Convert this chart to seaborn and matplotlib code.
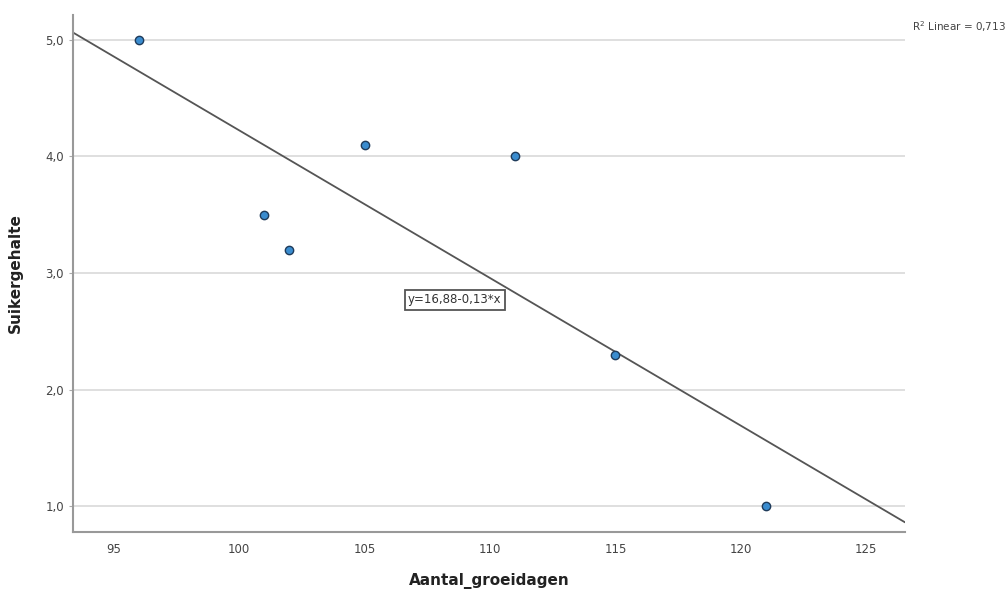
import numpy as np
import pandas as pd
import seaborn as sns
import matplotlib
matplotlib.use("Agg")
import matplotlib.pyplot as plt
from matplotlib.ticker import FuncFormatter

groeidagen = [96, 101, 102, 105, 111, 115, 121]
suiker = [5.0, 3.5, 3.2, 4.1, 4.0, 2.3, 1.0]
x_ticks = [95, 100, 105, 110, 115, 120, 125]
y_ticks = [1.0, 2.0, 3.0, 4.0, 5.0]

df = pd.DataFrame({"Aantal_groeidagen": groeidagen, "Suikergehalte": suiker})

sns.set_theme(style="white")
plt.rcParams['font.family'] = ['DejaVu Sans']

fig = plt.figure(figsize=(10.07, 5.91), dpi=100)
ax = fig.add_axes([0.0725, 0.0998, 0.8262, 0.8748])
xlim = (93.38, 126.54)
ax.set_xlim(*xlim)
ax.set_ylim(0.78, 5.21)

for yt in y_ticks:
    ax.axhline(yt, color="#d9d9d9", lw=1.2, zorder=0)

slope, intercept = np.polyfit(groeidagen, suiker, 1)
r = np.corrcoef(groeidagen, suiker)[0, 1]
xs = np.array(xlim)
ax.plot(xs, intercept + slope * xs, color="#555555", lw=1.3, zorder=2)

sns.scatterplot(data=df, x="Aantal_groeidagen", y="Suikergehalte", ax=ax,
                s=36, color="#3a8ccf", edgecolor="#1f3b5a", linewidth=1.0, zorder=3)

ax.set_xticks(x_ticks)
ax.set_yticks(y_ticks)
ax.yaxis.set_major_formatter(FuncFormatter(lambda v, p: f"{v:.1f}".replace(".", ",")))
ax.tick_params(axis="both", labelsize=8.5, colors="#444444", length=3, width=0.8)
ax.tick_params(axis="x", length=0, pad=8)
ax.tick_params(axis="y", left=True, color="#aaaaaa")
for s in ["top", "right"]:
    ax.spines[s].set_visible(False)
for s in ["left", "bottom"]:
    ax.spines[s].set_color("#999999")
    ax.spines[s].set_linewidth(1.5)

ax.set_xlabel("Aantal_groeidagen", fontsize=11, fontweight="bold", labelpad=12, color="#222222")
ax.set_ylabel("Suikergehalte", fontsize=11, fontweight="bold", labelpad=16, color="#222222")

eq = f"y={intercept:.2f}{slope:+.2f}*x".replace(".", ",")
ax.text(108.6, 2.77, eq, fontsize=8.5, ha="center", va="center", color="#333333",
        bbox=dict(boxstyle="square,pad=0.3", fc="white", ec="#555555", lw=1.3), zorder=4)

fig.text(0.999, 0.955, "R$^2$ Linear = " + f"{r**2:.3f}".replace(".", ","), fontsize=7.5,
         ha="right", va="center", color="#444444")

fig.savefig("out.png", dpi=100)
